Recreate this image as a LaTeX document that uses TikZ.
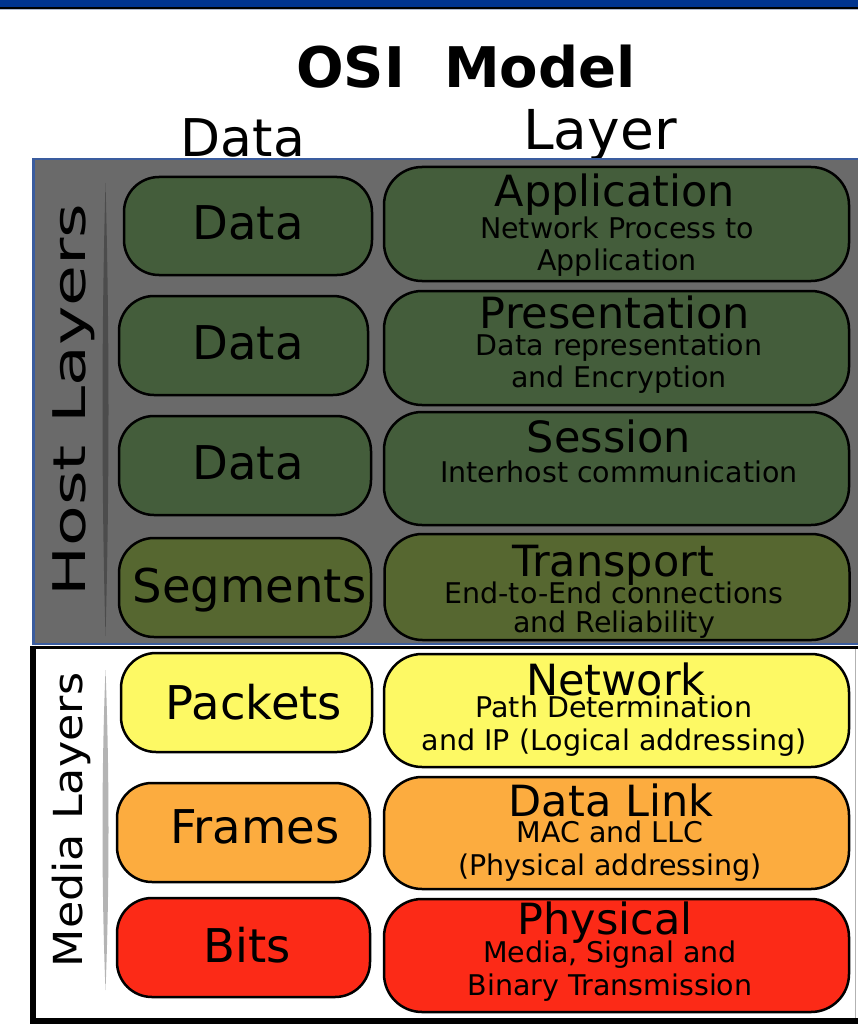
\documentclass[tikz,border=0pt]{standalone}
\usepackage{fontspec}
\setmainfont{DejaVu Sans}
\usepackage{graphicx}

\definecolor{topblue}{HTML}{00348F}
\definecolor{rulegray}{HTML}{AEB8CC}
\definecolor{hostgray}{HTML}{6A6A6A}
\definecolor{hostedge}{HTML}{3A5C9E}
\definecolor{hostsep}{HTML}{4C4C4C}
\definecolor{mediasep}{HTML}{B4B4B4}
\definecolor{dkgreen}{HTML}{445D3B}
\definecolor{olive}{HTML}{566730}
\definecolor{ylw}{HTML}{FDF964}
\definecolor{orng}{HTML}{FCAC3F}
\definecolor{rd}{HTML}{FC2A17}

\tikzset{
  pdubox/.style={draw=black, line width=2.5pt, rounded corners=35pt, inner sep=0pt},
  layerbox/.style={draw=black, line width=2.5pt, rounded corners=38pt, inner sep=0pt,
                   minimum width=465pt},
  pdutext/.style={anchor=base, inner sep=0pt, font=\fontsize{46.5}{50}\selectfont},
  layername/.style={anchor=base, inner sep=0pt, font=\fontsize{43}{48}\selectfont},
  layerdesc/.style={anchor=base, inner sep=0pt, font=\fontsize{28.5}{32}\selectfont},
  sidetext/.style={anchor=base, inner sep=0pt, rotate=90},
}

\begin{document}
\begin{tikzpicture}[x=1pt, y=-1pt]
\useasboundingbox (0,0) rectangle (858,1024);

% top banner
\fill[topblue] (0,0) rectangle (858,7);
\fill[black] (0,7) rectangle (858,9);
\fill[rulegray] (0,9) rectangle (858,10.5);

% headings
\node[anchor=base, inner sep=0pt, font=\bfseries\fontsize{56}{60}\selectfont] (title) at (466,88) {OSI\ \ Model};
\node[anchor=base, inner sep=0pt, font=\fontsize{52}{60}\selectfont] (hdata) at (243,157) {Data};
\node[anchor=base, inner sep=0pt, font=\fontsize{55}{60}\selectfont] (hlayer) at (600,150) {Layer};

% host layers panel
\fill[hostgray] (33,159) rectangle (880,644);
\draw[hostedge, line width=2.5pt] (880,159) -- (33.5,159) -- (33.5,644) -- (880,644);

% media layers panel
\fill[white] (33,647) rectangle (880,1021);
\draw[black, line width=3pt] (33,647) -- (880,647);
\draw[black, line width=6.5pt] (33,645.5) -- (33,1021) -- (880,1021);
\draw[black!30, line width=1pt] (855.5,649) -- (855.5,1017.5);

% separators
\fill[hostsep] (105.5,183) .. controls (109.5,330) and (109.5,490) .. (105.5,636)
  .. controls (101.5,490) and (101.5,330) .. (105.5,183) -- cycle;
\fill[mediasep] (105.5,670) .. controls (109.5,770) and (109.5,890) .. (105.5,990)
  .. controls (101.5,890) and (101.5,770) .. (105.5,670) -- cycle;

% side labels
\node[sidetext, font=\fontsize{45}{50}\selectfont] (hostlbl) at (85,400) {\scalebox{1.48}[1]{Host Layers}};
\node[sidetext, font=\fontsize{40}{45}\selectfont] (medialbl) at (82,820) {\scalebox{1.11}[1]{Media Layers}};

% PDU column
\node[pdubox, fill=dkgreen, minimum width=248pt, minimum height=98pt] (pdu7) at (248,226) {};
\node[pdubox, fill=dkgreen, minimum width=249pt, minimum height=99pt] (pdu6) at (243.5,345.5) {};
\node[pdubox, fill=dkgreen, minimum width=252pt, minimum height=99pt] (pdu5) at (245,465.5) {};
\node[pdubox, fill=olive, minimum width=252pt, minimum height=99pt] (pdu4) at (245,587.5) {};
\node[pdubox, fill=ylw, minimum width=251pt, minimum height=99pt] (pdu3) at (246.5,702.5) {};
\node[pdubox, fill=orng, minimum width=253pt, minimum height=99pt] (pdu2) at (243.5,832.5) {};
\node[pdubox, fill=rd, minimum width=253pt, minimum height=99pt] (pdu1) at (243.5,947.5) {};

\node[pdutext] (pdu7t) at (248,239.5) {Data};
\node[pdutext] (pdu6t) at (248,359.5) {Data};
\node[pdutext] (pdu5t) at (248,479.5) {Data};
\node[pdutext] (pdu4t) at (249.5,602.5) {Segments};
\node[pdutext] (pdu3t) at (254,719.5) {Packets};
\node[pdutext] (pdu2t) at (255,843.5) {Frames};
\node[pdutext] (pdu1t) at (247,962.5) {Bits};

% layer column
\node[layerbox, fill=dkgreen, minimum height=114pt] (l7) at (616.5,224) {};
\node[layerbox, fill=dkgreen, minimum height=114pt] (l6) at (616.5,348) {};
\node[layerbox, fill=dkgreen, minimum height=113pt] (l5) at (616.5,468.5) {};
\node[layerbox, fill=olive, minimum height=106pt] (l4) at (617,587) {};
\node[layerbox, fill=ylw, minimum height=113pt] (l3) at (616.5,710.5) {};
\node[layerbox, fill=orng, minimum height=112pt] (l2) at (616.5,833) {};
\node[layerbox, fill=rd, minimum height=113pt] (l1) at (616.5,955.5) {};

\node[layername] (l7n) at (615,207) {Application};
\node[layerdesc] (l7a) at (617,238) {Network Process to};
\node[layerdesc] (l7b) at (617,270) {Application};

\node[layername] (l6n) at (615,328) {Presentation};
\node[layerdesc] (l6a) at (619,355) {Data representation};
\node[layerdesc] (l6b) at (619,387) {and Encryption};

\node[layername] (l5n) at (609,452) {Session};
\node[layerdesc] (l5a) at (619,482) {Interhost communication};

\node[layername] (l4n) at (613,576) {Transport};
\node[layerdesc] (l4a) at (614,603) {End-to-End connections};
\node[layerdesc] (l4b) at (614,632) {and Reliability};

\node[layername] (l3n) at (616,695) {Network};
\node[layerdesc] (l3a) at (614,717) {Path Determination};
\node[layerdesc] (l3b) at (614,750) {and IP (Logical addressing)};

\node[layername] (l2n) at (611,816) {Data Link};
\node[layerdesc] (l2a) at (610,842) {MAC and LLC};
\node[layerdesc] (l2b) at (610,875) {(Physical addressing)};

\node[layername] (l1n) at (605,934) {Physical};
\node[layerdesc] (l1a) at (610,962) {Media, Signal and};
\node[layerdesc] (l1b) at (610,995) {Binary Transmission};
\end{tikzpicture}
\end{document}
